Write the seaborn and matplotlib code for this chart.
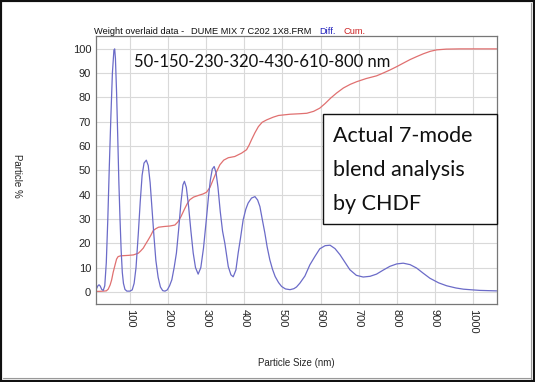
# CHDF weight overlay chart: differential and cumulative particle size curves
import matplotlib

matplotlib.use("Agg", force=True)

import matplotlib.pyplot as plt
from matplotlib import font_manager
from matplotlib.patches import Rectangle
import seaborn as sns
import pandas as pd

# Differential curve (blue)
diff_size = [10, 13, 16, 19, 22, 26, 30, 34, 38, 42, 46, 50, 54, 58, 60, 62, 65, 68, 71, 74,
             77, 80, 83, 87, 92, 100, 106, 111, 116, 122, 127, 132, 137, 143, 148, 153, 158,
             163, 168, 174, 180, 186, 192, 198, 204, 210, 216, 222, 228, 234, 239, 243, 248,
             254, 260, 266, 272, 279, 286, 293, 300, 306, 311, 316, 321, 326, 331, 337, 343,
             349, 358, 365, 371, 378, 384, 390, 397, 404, 410, 419, 428, 435, 441, 447, 454,
             460, 467, 474, 481, 490, 498, 508, 520, 530, 537, 546, 559, 572, 585, 598, 612,
             625, 638, 651, 664, 677, 694, 712, 730, 747, 765, 782, 800, 817, 835, 852, 870,
             887, 910, 931, 955, 975, 1000, 1018, 1040, 1062]
diff_pct = [0.8, 1.5, 2.5, 2.9, 2.4, 1.0, 0.6, 2.5, 12, 30, 52, 72, 90, 99.5, 100, 96, 82, 64,
            45, 30, 17, 8, 3.5, 1, 0.3, 0.3, 0.8, 3.5, 10, 24, 37, 48, 53, 54.2, 52, 45, 34,
            23, 13, 6, 2, 0.5, 0.3, 0.8, 2.5, 5, 10, 16, 26, 37, 44, 45.5, 43, 35, 25, 16, 10,
            7.3, 10, 18, 29, 39, 46, 50.5, 51.6, 49, 43, 33, 25, 20, 10.4, 7, 6.2, 9, 16, 22,
            29.6, 34, 36.5, 38.6, 39.2, 37.8, 35.1, 30, 24.2, 18.5, 13.2, 9.3, 6.3, 3.8, 2.2,
            1.2, 0.9, 1.3, 2, 3.6, 6.5, 11.1, 14.5, 17.7, 19, 19.2, 17.8, 15.3, 12.2, 9.1, 6.8,
            6.1, 6.4, 7.3, 9, 10.5, 11.5, 11.8, 11.2, 9.8, 7.6, 5.6, 3.7, 2.5, 1.6, 1.1, 0.8,
            0.6, 0.5, 0.4]

# Cumulative curve (red)
cum_size = [10, 20, 30, 38, 43, 48, 52, 56, 61, 65, 69, 75, 83, 95, 109, 122, 128, 135, 141,
            148, 155, 161, 168, 175, 190, 205, 218, 226, 234, 243, 250, 257, 267, 280, 292,
            301, 310, 318, 326, 336, 346, 358, 375, 393, 406, 413, 419, 428, 437, 447, 459,
            476, 490, 520, 545, 564, 582, 598, 612, 627, 642, 660, 678, 695, 720, 747, 765,
            782, 800, 818, 835, 852, 870, 888, 905, 930, 966, 1000, 1062]
cum_pct = [0.2, 0.2, 0.3, 0.4, 1.1, 2.8, 4.9, 8, 11.1, 13.5, 14.5, 14.8, 14.9, 15, 15.2, 15.9,
           16.8, 18, 19.6, 21.4, 23.3, 25.2, 26, 26.6, 26.9, 27.1, 27.5, 28.8, 31, 34, 36.2,
           37.9, 39, 39.7, 40.3, 41, 43, 46, 49, 52.3, 54.2, 55.2, 55.7, 57.1, 58.5, 60.5,
           62.6, 65.5, 68, 69.8, 70.8, 71.9, 72.6, 73.1, 73.3, 73.5, 74.3, 75.6, 77.5, 79.8,
           81.8, 83.9, 85.4, 86.5, 87.8, 88.9, 90.1, 91.3, 92.7, 94.2, 95.6, 96.8, 98, 99,
           99.6, 99.9, 100, 100, 100]

x_ticks = [100, 200, 300, 400, 500, 600, 700, 800, 900, 1000]
y_ticks = [0, 10, 20, 30, 40, 50, 60, 70, 80, 90, 100]

title_parts = ["Weight overlaid data -", "DUME MIX 7 C202 1X8.FRM", "Diff.", "Cum."]
modes_label = "50-150-230-320-430-610-800 nm"
box_lines = ["Actual 7-mode", "blend analysis", "by CHDF"]

DIFF_COLOR = "#6b6bc8"
CUM_COLOR = "#e07070"

sns.set_style("white")

# Narrow font if present, otherwise a plain sans at a smaller size
installed = {f.name for f in font_manager.fontManager.ttflist}
NARROW = "Liberation Sans Narrow" if "Liberation Sans Narrow" in installed else "Liberation Sans"
CALLOUT = "Lato" if "Lato" in installed else "DejaVu Sans"
plt.rcParams["font.family"] = [NARROW, "DejaVu Sans"]

W, H = 535, 382
fig = plt.figure(figsize=(W / 100, H / 100), dpi=100)
ax = fig.add_axes([96 / W, 1 - 304 / H, (497 - 96) / W, (304 - 36) / H])

diff_df = pd.DataFrame({"size": diff_size, "pct": diff_pct})
cum_df = pd.DataFrame({"size": cum_size, "pct": cum_pct})
sns.lineplot(data=cum_df, x="size", y="pct", ax=ax, color=CUM_COLOR, linewidth=0.9,
             estimator=None, sort=False)
sns.lineplot(data=diff_df, x="size", y="pct", ax=ax, color=DIFF_COLOR, linewidth=0.9,
             estimator=None, sort=False)

ax.set_xlim(11, 1063)
ax.set_ylim(-5, 105.3)
ax.set_xticks(x_ticks)
ax.set_yticks(y_ticks)
ax.set_xticklabels([str(t) for t in x_ticks], rotation=270, fontsize=8)
ax.set_yticklabels([str(t) for t in y_ticks], fontsize=8)
ax.tick_params(axis="both", length=2, width=0.6, color="#777777", pad=1.5)
ax.grid(True, color="#d9d9d9", linewidth=0.8)
ax.set_axisbelow(True)
for sp in ax.spines.values():
    sp.set_color("#777777")
    sp.set_linewidth(0.9)
ax.set_xlabel("")
ax.set_ylabel("")

# Title line made of coloured pieces
title_x = [94, 191, 319, 343]
title_colors = ["#111111", "#111111", "#2222bb", "#cc2222"]
for txt, px, col in zip(title_parts, title_x, title_colors):
    fig.text(px / W, 1 - 34 / H, txt, fontsize=6.7, color=col, va="baseline", ha="left")

fig.text(17 / W, 1 - 176 / H, "Particle %", rotation=270, fontsize=7,
         ha="center", va="center")
fig.text(296 / W, 1 - 363 / H, "Particle Size (nm)", fontsize=7,
         ha="center", va="center")

# Mode list annotation
fig.text(134 / W, 1 - 67 / H, modes_label, fontsize=12, family=CALLOUT,
         color="#111111", va="baseline", ha="left")

# Callout box
fig.patches.append(Rectangle((323 / W, 1 - 224 / H), (497 - 323) / W, (224 - 114) / H,
                             transform=fig.transFigure, facecolor="white",
                             edgecolor="#111111", linewidth=1.0, zorder=5))
for i, line in enumerate(box_lines):
    fig.text(333 / W, 1 - (142 + 34 * i) / H, line, fontsize=15.5, family=CALLOUT,
             color="#111111", va="baseline", ha="left", zorder=6)

# Outer frame
fig.patches.append(Rectangle((0, 0), 1, 1, transform=fig.transFigure, fill=False,
                             edgecolor="#111111", linewidth=3.0, zorder=10))
fig.add_artist(plt.Line2D([531 / W, 531 / W], [3 / H, 1 - 3 / H], color="#999999",
                          linewidth=0.8, transform=fig.transFigure))
fig.add_artist(plt.Line2D([3 / W, 531 / W], [4 / H, 4 / H], color="#999999",
                          linewidth=0.8, transform=fig.transFigure))

fig.savefig("out.png", dpi=100)
